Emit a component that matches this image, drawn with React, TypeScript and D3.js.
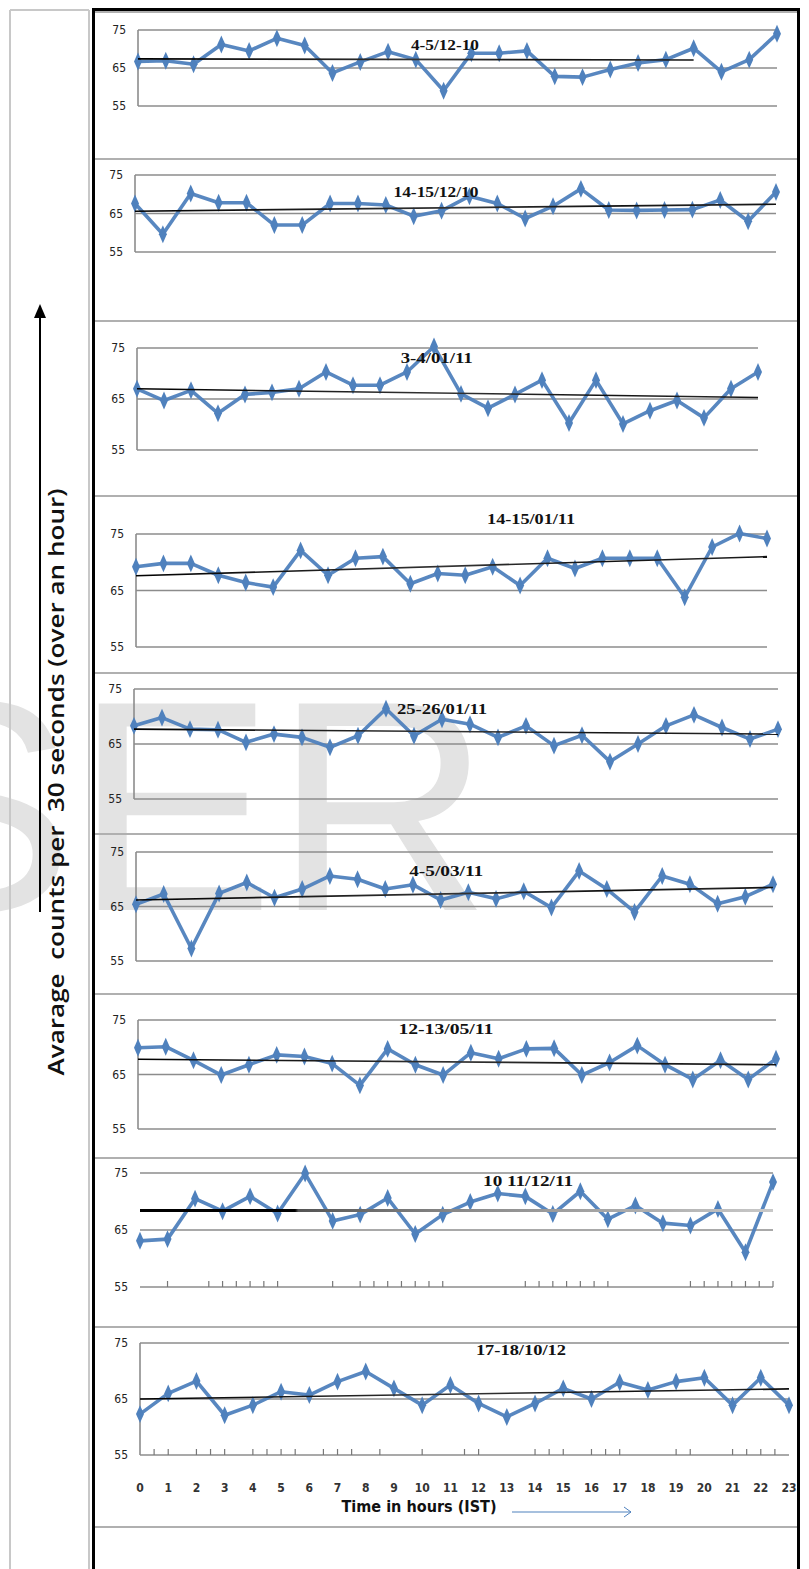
import React from 'react';
import * as d3 from 'd3';

// hourly averages, one array per recording day
const hours = [0, 1, 2, 3, 4, 5, 6, 7, 8, 9, 10, 11, 12, 13, 14, 15, 16, 17, 18, 19, 20, 21, 22, 23];
const dec04 = [66.7, 66.9, 66, 71.2, 69.5, 72.8, 70.9, 63.7, 66.6, 69.3, 67.2, 59, 68.9, 68.9, 69.5, 62.8, 62.6, 64.6, 66.3, 67.2, 70.2, 64, 67.2, 74];
const dec14 = [67.6, 59.6, 70.2, 67.8, 67.8, 62, 62, 67.6, 67.6, 67.2, 64.3, 65.7, 69.5, 67.6, 63.7, 66.9, 71.4, 65.9, 65.8, 65.9, 66, 68.5, 63, 70.6];
const jan03 = [67, 64.7, 66.7, 62.2, 65.9, 66.3, 67, 70.3, 67.7, 67.7, 70.3, 75.3, 66, 63.2, 65.9, 68.7, 60.3, 68.7, 60.1, 62.7, 64.7, 61.3, 67, 70.3];
const jan14 = [69.2, 69.8, 69.8, 67.7, 66.4, 65.6, 72.1, 67.7, 70.7, 71, 66.2, 68, 67.7, 69.2, 65.9, 70.7, 68.9, 70.7, 70.7, 70.7, 63.8, 72.7, 75.1, 74.2];
const jan25 = [68.3, 69.8, 67.7, 67.6, 65.3, 66.8, 66.2, 64.4, 66.5, 71.4, 66.5, 69.5, 68.6, 66.2, 68.3, 64.7, 66.6, 61.8, 65, 68.3, 70.3, 68, 65.9, 67.7];
const mar04 = [65.4, 67.3, 57.3, 67.4, 69.4, 66.6, 68.2, 70.6, 70, 68.2, 69, 66.2, 67.6, 66.4, 67.8, 64.8, 71.5, 68.2, 64, 70.6, 69.1, 65.5, 66.8, 69.1];
const may12 = [69.9, 70.1, 67.6, 64.9, 66.8, 68.6, 68.3, 67, 63, 69.7, 66.8, 64.9, 69, 67.9, 69.7, 69.8, 64.9, 67.2, 70.3, 66.8, 64.1, 67.6, 64.1, 67.9];
const dec10 = [63.1, 63.4, 70.5, 68.3, 70.9, 67.9, 74.9, 66.6, 67.7, 70.6, 64.3, 67.7, 69.9, 71.4, 70.9, 67.8, 71.8, 66.9, 69.3, 66.2, 65.8, 68.7, 61.1, 73.4];
const oct17 = [62.3, 66, 68.2, 62.1, 63.9, 66.3, 65.7, 68.1, 69.9, 66.9, 63.9, 67.5, 64.2, 61.8, 64.2, 66.9, 65, 68, 66.6, 68.1, 68.8, 63.9, 68.8, 63.9];

const series = [dec04, dec14, jan03, jan14, jan25, mar04, may12, dec10, oct17];
const titles = ['4-5/12-10', '14-15/12/10', '3-4/01/11', '14-15/01/11', '25-26/01/11', '4-5/03/11', '12-13/05/11', '10 11/12/11', '17-18/10/12'];

// linear trend: start value, end value, last hour it reaches
const trendStart = [67.4, 65.6, 67, 67.6, 67.7, 66.2, 67.8, 68.4, 65];
const trendEnd = [67.1, 67.4, 65.3, 71, 66.8, 68.5, 66.8, 68.4, 66.8];
const trendLastHour = [20, 23, 23, 23, 23, 23, 23, 23, 23];

const yTicks = [55, 65, 75];

// odd little minor ticks sitting on the 55 line of the last two panels
const minorTicks8 = [1, 2.5, 3, 3.5, 4, 4.5, 5, 7, 8, 8.5, 9, 9.5, 10, 10.5, 11, 14, 14.5, 15, 15.5, 16, 16.5, 17, 20, 20.5, 21, 21.5, 22, 22.5, 23];
const minorTicks9 = [0.5, 1, 2, 2.5, 3, 4, 4.5, 5, 5.5, 6.5, 7, 7.5, 8.5, 10, 11.5, 12, 14, 14.5, 15, 16, 16.5, 17, 19, 19.5, 21, 21.5, 22, 22.5];

// panel geometry in page pixels
const layout = [
  { x0: 138, x1: 777, top: 30, bottom: 106, tx: 11.05, ty: 71, tl: 68, axis: true },
  { x0: 135, x1: 776, top: 175, bottom: 252, tx: 10.8, ty: 70.6, tl: 85, axis: true },
  { x0: 137, x1: 758, top: 348, bottom: 450, tx: 11.1, ty: 73, tl: 72, axis: true },
  { x0: 136, x1: 767, top: 534, bottom: 647, tx: 14.4, ty: 77.7, tl: 88, axis: true },
  { x0: 134, x1: 778, top: 689, bottom: 799, tx: 11, ty: 71.4, tl: 90, axis: true },
  { x0: 136, x1: 773, top: 852, bottom: 961, tx: 11.2, ty: 71.5, tl: 74, axis: true },
  { x0: 138, x1: 776, top: 1020, bottom: 1129, tx: 11.1, ty: 73.4, tl: 95, axis: true },
  { x0: 140, x1: 773, top: 1173, bottom: 1287, tx: 14.1, ty: 73.6, tl: 90, axis: false },
  { x0: 140, x1: 789, top: 1343, bottom: 1455, tx: 13.5, ty: 73.7, tl: 90, axis: true },
];
const separators = [12, 159, 321, 496, 673, 834, 994, 1158, 1327, 1527];

const blue = '#4f81bd';
const narrow = '"Liberation Sans Narrow", "DejaVu Sans Condensed", sans-serif';

const Panel = ({ i }) => {
  const g = layout[i];
  const data = series[i];
  const x = d3.scaleLinear().domain([0, 23]).range([g.x0, g.x1]);
  const y = d3.scaleLinear().domain([55, 75]).range([g.bottom, g.top]);
  const line = d3.line<number>().x((d, k) => x(hours[k])).y(d => y(d));
  const diamond = d3.symbol().type(d3.symbolDiamond).size(55)();
  const minor = i === 7 ? minorTicks8 : i === 8 ? minorTicks9 : [];
  const gridEnd = Math.max(g.x1, x(23));
  const tEndX = x(trendLastHour[i]);
  const faded = i === 7;

  return (
    <g>
      {yTicks.map(t => (
        <g key={t}>
          <line x1={g.x0} x2={gridEnd} y1={y(t)} y2={y(t)} stroke="#8c8c8c" strokeWidth={1.6} />
          <text x={g.x0 - 12} y={y(t)} dy="0.35em" textAnchor="end" fontSize={12}
            fontFamily={narrow} fill="#222">{t}</text>
        </g>
      ))}
      {g.axis && <line x1={g.x0} x2={g.x0} y1={y(75)} y2={y(55)} stroke="#8c8c8c" strokeWidth={1.6} />}
      {minor.map((m, k) => (
        <line key={k} x1={x(m)} x2={x(m)} y1={y(55)} y2={y(55) - 6} stroke="#777" strokeWidth={1.2} />
      ))}
      <defs>
        <linearGradient id={`trend${i}`} gradientUnits="userSpaceOnUse" x1={x(0)} x2={tEndX} y1={0} y2={0}>
          <stop offset="0" stopColor="#000" />
          <stop offset={faded ? 0.245 : 0.5} stopColor={faded ? '#000' : '#333'} />
          <stop offset={faded ? 0.25 : 0.75} stopColor={faded ? '#555' : '#111'} />
          <stop offset={faded ? 0.5 : 0.9} stopColor={faded ? '#888' : '#222'} />
          <stop offset="1" stopColor={faded ? '#c8c8c8' : '#111'} />
        </linearGradient>
      </defs>
      <path d={line(data) ?? ''} fill="none" stroke={blue} strokeWidth={3.6} strokeLinejoin="round" opacity={0.95} />
      {data.map((d, k) => (
        <path key={k} d={diamond} transform={`translate(${x(hours[k])},${y(d)}) scale(1,1.3)`} fill={blue} />
      ))}
      <line x1={x(0)} x2={tEndX} y1={y(trendStart[i])} y2={y(trendEnd[i])}
        stroke={`url(#trend${i})`} strokeWidth={faded ? 3 : 1.6} />
      <text x={x(g.tx)} y={y(g.ty)} dy="0.35em" textAnchor="middle" fontSize={14} fontWeight="bold"
        fontFamily='"Liberation Serif", serif' fill="#111" textLength={g.tl} lengthAdjust="spacingAndGlyphs">
        {titles[i]}
      </text>
    </g>
  );
};

export default function App() {
  const last = layout[8];
  const xs = d3.scaleLinear().domain([0, 23]).range([last.x0, last.x1]);

  return (
    <svg width={809} height={1569} style={{ position: 'absolute', left: 0, top: 0, background: '#fff' }}>
      {/* watermark */}
      <text x={-126} y={910} fontSize={300} fontFamily='"Liberation Sans", Arial, sans-serif' fill="#e3e3e3">SER</text>

      {/* left cell */}
      <line x1={10} x2={10} y1={10} y2={1569} stroke="#c8c8c8" strokeWidth={2} />
      <line x1={89} x2={89} y1={10} y2={1569} stroke="#c8c8c8" strokeWidth={2} />
      <line x1={10} x2={89} y1={10} y2={10} stroke="#c8c8c8" strokeWidth={2} />

      {/* outer frame */}
      <path d="M93.5,1569 V9.5 H798.5 V1569" fill="none" stroke="#000" strokeWidth={3} />
      {separators.map(s => (
        <line key={s} x1={95} x2={797} y1={s} y2={s} stroke="#b0b0b0" strokeWidth={2} />
      ))}

      {layout.map((_, i) => <Panel key={i} i={i} />)}

      {/* hour labels under the last panel */}
      {hours.map(h => (
        <text key={h} x={xs(h)} y={1488} dy="0.35em" textAnchor="middle" fontSize={12} fontWeight="bold"
          fontFamily={narrow} fill="#333">{h}</text>
      ))}
      <text x={419} y={1507} dy="0.35em" textAnchor="middle" fontSize={15} fontWeight="bold"
        fontFamily={narrow} fill="#111" textLength={155} lengthAdjust="spacingAndGlyphs">Time in hours (IST)</text>
      <line x1={512} x2={631} y1={1512} y2={1512} stroke={blue} strokeWidth={1} />
      <path d="M624,1507 L631,1512 L624,1517" fill="none" stroke={blue} strokeWidth={1} />

      {/* y axis title and arrow */}
      <line x1={40} x2={40} y1={912} y2={316} stroke="#000" strokeWidth={2} />
      <path d="M34,318 L40,304 L46,318 Z" fill="#000" />
      <text transform="translate(64,782) rotate(-90)" textAnchor="middle" fontSize={21} fontWeight={600}
        fontFamily='"Open Sans", sans-serif' fill="#111" textLength={587} lengthAdjust="spacingAndGlyphs"
        style={{ whiteSpace: 'pre' }}>
        {'Avarage  counts per  30 seconds (over an hour)'}
      </text>
    </svg>
  );
}
